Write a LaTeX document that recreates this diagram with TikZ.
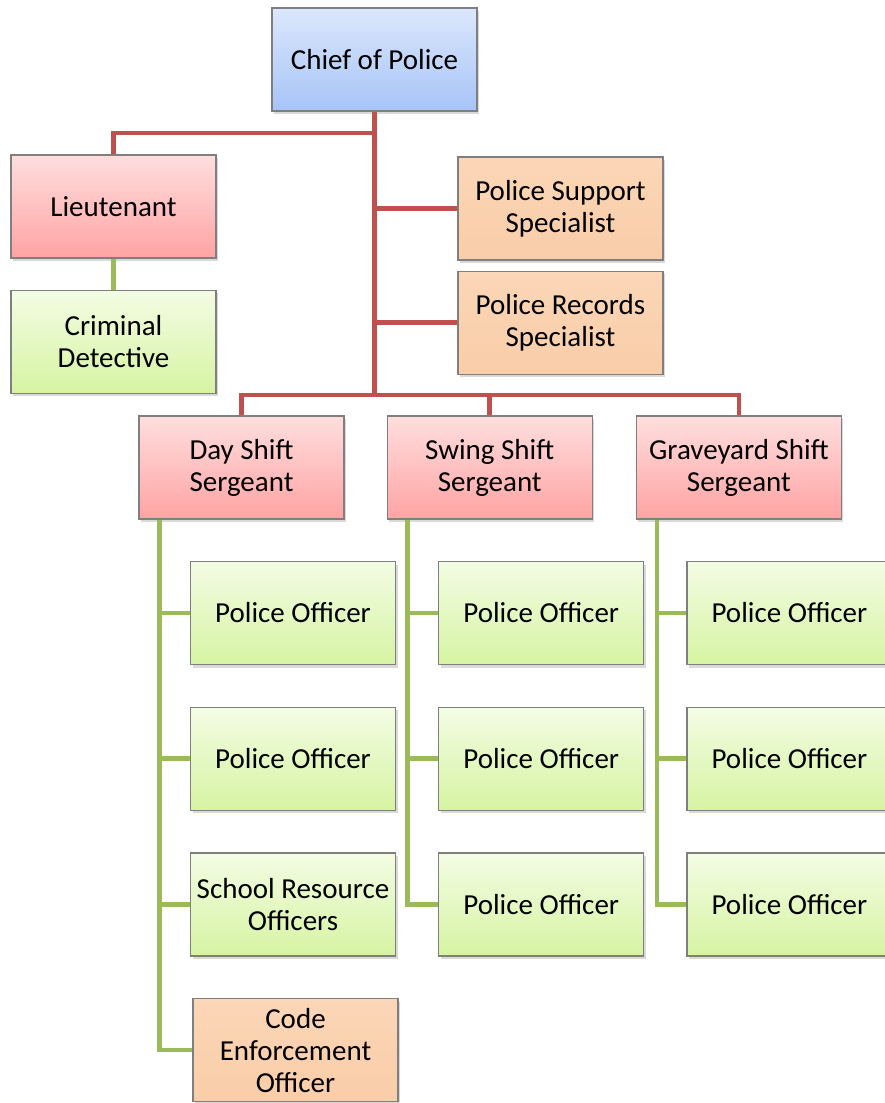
\documentclass[tikz,border=0pt]{standalone}
\usepackage{fontspec}
\setmainfont{Carlito}
\usepackage{tikz}
\usetikzlibrary{positioning,calc,shadows}
\usepackage{xcolor}

\definecolor{chiefTop}{HTML}{DCE7FC}
\definecolor{chiefBot}{HTML}{A6C4F7}
\definecolor{rankTop}{HTML}{FFDEDE}
\definecolor{rankBot}{HTML}{FFA3A3}
\definecolor{staffTop}{HTML}{F3FCE4}
\definecolor{staffBot}{HTML}{D6F4A2}
\definecolor{civilTop}{HTML}{FBD6B7}
\definecolor{civilBot}{HTML}{F9CDA8}
\definecolor{boxBorder}{HTML}{7F7F7F}
\definecolor{lineRed}{HTML}{C0504D}
\definecolor{lineGreen}{HTML}{9BBB59}

\begin{document}
\begin{tikzpicture}[
    x=1pt, y=1pt,
    box/.style={rectangle, draw=boxBorder, line width=1.2pt, minimum width=205pt, minimum height=103pt, inner sep=2pt, align=center, font=\fontsize{29}{32}\selectfont, drop shadow={opacity=0.3, shadow xshift=2pt, shadow yshift=-3pt}},
    chief/.style={box, top color=chiefTop, bottom color=chiefBot},
    rank/.style={box, top color=rankTop, bottom color=rankBot},
    staff/.style={box, top color=staffTop, bottom color=staffBot},
    civil/.style={box, top color=civilTop, bottom color=civilBot},
    redline/.style={draw=lineRed, line width=4.5pt},
    greenline/.style={draw=lineGreen, line width=4.5pt}
]
\useasboundingbox (0,0) rectangle (884,-1103);

% Command
\node (chief) [chief] at (374.5,-59.5) {Chief of Police};
\node (lieut) [rank] at (113.5,-206.5) {Lieutenant};
\node (detective) [staff, below=31pt of lieut] {Criminal\\Detective};
\node (support) [civil] at (560.5,-208.5) {Police Support\\Specialist};
\node (records) [civil, below=10pt of support] {Police Records\\Specialist};

% Sergeants
\node (daySgt) [rank] at (241.5,-467.5) {Day Shift\\Sergeant};
\node (swingSgt) [rank, right=42pt of daySgt] {Swing Shift\\Sergeant};
\node (graveSgt) [rank, right=43pt of swingSgt] {Graveyard Shift\\Sergeant};

% Officers
\node (dayOff1) [staff] at (293,-613) {Police Officer};
\node (dayOff2) [staff, below=41.5pt of dayOff1] {Police Officer};
\node (school) [staff, below=41.5pt of dayOff2] {School Resource\\Officers};
\node (code) [civil, below=41.5pt of school, xshift=2.5pt] {Code\\Enforcement\\Officer};

\node (swingOff1) [staff, right=42pt of dayOff1] {Police Officer};
\node (swingOff2) [staff, below=41.5pt of swingOff1] {Police Officer};
\node (swingOff3) [staff, below=41.5pt of swingOff2] {Police Officer};

\node (graveOff1) [staff, right=42pt of swingOff1] {Police Officer};
\node (graveOff2) [staff, below=41.5pt of graveOff1] {Police Officer};
\node (graveOff3) [staff, below=41.5pt of graveOff2] {Police Officer};

% Red connections
\coordinate (lbus) at (0,-133);
\coordinate (sbus) at (0,-395);
\draw[redline] (chief.south) -- (chief.south |- sbus);
\draw[redline] (chief.south |- lbus) -| (lieut.north);
\draw[redline] (chief.south |- support.west) -- (support.west);
\draw[redline] (chief.south |- records.west) -- (records.west);
\draw[redline] (daySgt.north) |- (graveSgt.north |- sbus) -- (graveSgt.north);
\draw[redline] (swingSgt.north |- sbus) -- (swingSgt.north);

% Green connections
\draw[greenline] (lieut.south) -- (detective.north);

\coordinate (daySpine) at ($(daySgt.south west)+(21,0)$);
\coordinate (swingSpine) at ($(swingSgt.south west)+(21,0)$);
\coordinate (graveSpine) at ($(graveSgt.south west)+(21,0)$);

\draw[greenline] (daySpine) |- (code.west);
\foreach \n in {dayOff1,dayOff2,school}
    \draw[greenline] (daySpine |- \n.west) -- (\n.west);

\draw[greenline] (swingSpine) |- (swingOff3.west);
\foreach \n in {swingOff1,swingOff2}
    \draw[greenline] (swingSpine |- \n.west) -- (\n.west);

\draw[greenline] (graveSpine) |- (graveOff3.west);
\foreach \n in {graveOff1,graveOff2}
    \draw[greenline] (graveSpine |- \n.west) -- (\n.west);

\end{tikzpicture}
\end{document}
